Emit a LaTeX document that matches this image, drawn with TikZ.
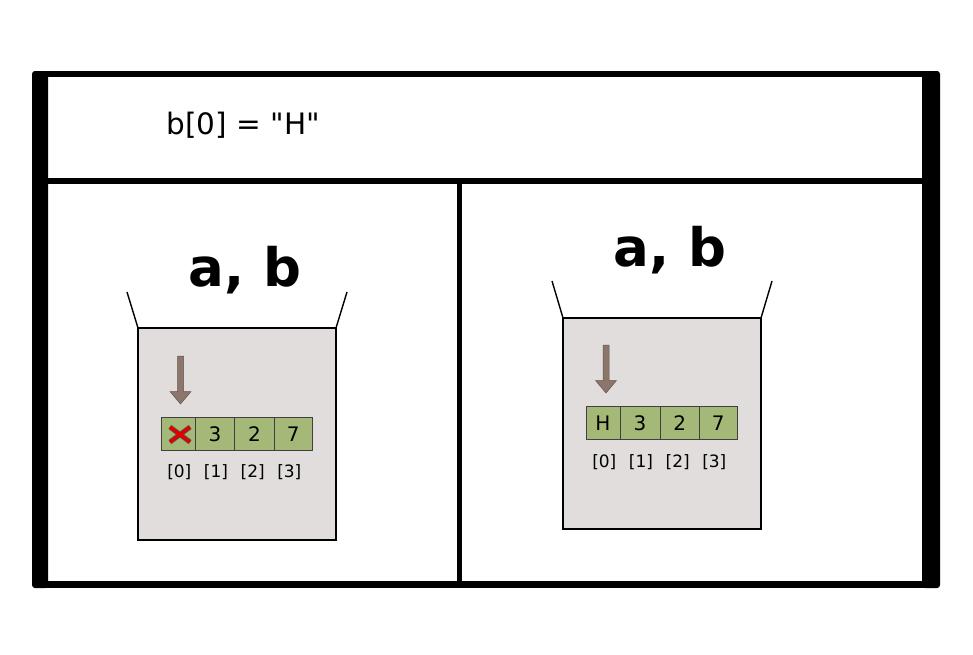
\documentclass[tikz,border=0pt]{standalone}
\usepackage{fontspec}
\setmainfont{DejaVu Sans}[Ligatures=TeXOff]
\definecolor{boxfill}{HTML}{E1DDDD}
\definecolor{cellfill}{HTML}{A4B977}
\definecolor{arrowfill}{HTML}{8C766B}
\definecolor{xred}{HTML}{E00000}
\tikzset{
  frame/.style={fill=black},
  cup/.style={draw=black, line width=1.5pt, fill=boxfill},
  lip/.style={draw=black, line width=1.4pt},
  cell/.style={draw=black!75, line width=0.8pt, fill=cellfill, minimum height=33pt, inner sep=0pt, outer sep=0pt, text height=14pt, text depth=0pt, font=\fontsize{20}{20}\selectfont, anchor=west},
  idx/.style={font=\fontsize{17}{17}\selectfont, inner sep=0pt},
  big/.style={font=\fontsize{53}{53}\selectfont\bfseries, inner sep=0pt, anchor=base},
  ptr/.style={fill=arrowfill, draw=arrowfill!70!black, line width=0.5pt},
}
\begin{document}
\begin{tikzpicture}[x=1pt,y=-1pt]
\useasboundingbox (0,0) rectangle (973,654);
% frame
\fill[frame, rounded corners=3pt] (32,71) rectangle (48,588);
\fill[frame, rounded corners=3pt] (922,71) rectangle (940,588);
\fill[frame] (34,71) rectangle (938,77);
\fill[frame] (34,581) rectangle (938,588);
\fill[frame] (40,178) rectangle (930,184);
\fill[frame] (457,181) rectangle (462,584);
% title
\node[font=\fontsize{29.5}{29.5}\selectfont, inner sep=0pt, anchor=base west] (title) at (166.5,134) {b[0] = "H"};
% left panel
\node[big] (lab1) at (245,286) {a, b};
\draw[lip] (127,292) -- (138,328);
\draw[lip] (347,292) -- (336,328);
\draw[cup] (138,328) rectangle (336,540);
\draw[ptr] (177.5,356) -- (183.5,356) -- (183.5,391.5) -- (191,391.5) -- (180.5,404) -- (170,391.5) -- (177.5,391.5) -- cycle;
\node[cell, minimum width=34.3pt] (a0) at (161,434) {};
\node[cell, minimum width=39.4pt] (a1) at (a0.east) {3};
\node[cell, minimum width=39.6pt] (a2) at (a1.east) {2};
\node[cell, minimum width=38pt] (a3) at (a2.east) {7};
\draw[line width=5pt, black!65] (170,427) -- (190,442) (170,442) -- (190,427);
\draw[line width=3.4pt, xred] (170,427) -- (190,442) (170,442) -- (190,427);
\node[idx] (ai0) at (179.3,471.7) {[0]};
\node[idx] (ai1) at (216,471.7) {[1]};
\node[idx] (ai2) at (252.7,471.7) {[2]};
\node[idx] (ai3) at (289.3,471.7) {[3]};
% right panel
\node[big] (lab2) at (670,266) {a, b};
\draw[lip] (552,281) -- (563,318);
\draw[lip] (772,281) -- (761,318);
\draw[cup] (563,318) rectangle (761,529);
\draw[ptr] (603,345) -- (609,345) -- (609,380.5) -- (616.5,380.5) -- (606,393) -- (595.5,380.5) -- (603,380.5) -- cycle;
\node[cell, minimum width=34pt] (b0) at (586,423) {H};
\node[cell, minimum width=40pt] (b1) at (b0.east) {3};
\node[cell, minimum width=39.3pt] (b2) at (b1.east) {2};
\node[cell, minimum width=38pt] (b3) at (b2.east) {7};
\node[idx] (bi0) at (604.3,461.7) {[0]};
\node[idx] (bi1) at (641,461.7) {[1]};
\node[idx] (bi2) at (677.7,461.7) {[2]};
\node[idx] (bi3) at (714.3,461.7) {[3]};
\end{tikzpicture}
\end{document}
